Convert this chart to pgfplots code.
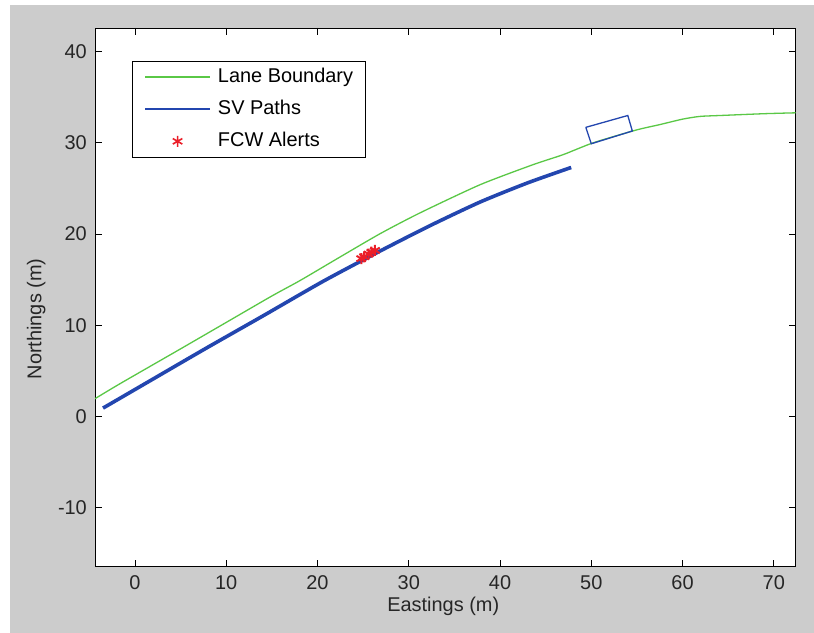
\documentclass[border=0pt]{standalone}
\usepackage{fontspec}
\setmainfont{Liberation Sans}
\usepackage{pgfplots}
\pgfplotsset{compat=1.18}
\definecolor{figgrey}{RGB}{204,204,204}
\definecolor{lanegreen}{RGB}{90,200,70}
\definecolor{svblue}{RGB}{35,70,175}
\definecolor{fcwred}{RGB}{235,30,40}
\newcommand{\figfont}{\fontsize{20}{24}\selectfont}

\begin{document}
\begin{tikzpicture}
\fill[white] (0bp,0bp) rectangle (814bp,633bp);
\fill[figgrey] (10bp,0bp) rectangle (814bp,628bp);
\useasboundingbox (0bp,0bp) rectangle (814bp,633bp);
\begin{axis}[
  at={(95bp,66.3bp)}, anchor=south west,
  scale only axis, width=700.7bp, height=538.7bp,
  xmin=-4.38, xmax=72.4,
  ymin=-16.5, ymax=42.6,
  xtick={0,10,...,70}, ytick={-10,0,...,40},
  axis background/.style={fill=white},
  axis line style={black, line width=0.9bp},
  major tick style={black, line width=0.9bp},
  major tick length=6.7bp,
  tick align=inside,
  /pgf/number format/assume math mode=true,
  tick label style={font=\figfont, text=black!85},
  xticklabel style={inner sep=0pt, yshift=-9bp},
  yticklabel style={inner sep=0pt, xshift=-8bp},
  label style={font=\figfont, text=black!85},
  xlabel={Eastings (m)},
  ylabel={Northings (m)},
  xlabel style={at={(axis description cs:0.497,0)}, anchor=center, yshift=-40bp},
  ylabel style={at={(axis description cs:-0.084,0.46)}, anchor=center},
  legend cell align=left,
  legend style={at={(axis description cs:0.0524,0.939)}, anchor=north west,
    draw=black, line width=0.9bp, fill=white, font=\figfont,
    inner xsep=12bp, inner ysep=6bp, row sep=12bp, column sep=7bp,
    nodes={inner sep=0pt, text height=15bp, text depth=5bp}},
]
% lane boundary
\addplot[lanegreen, line width=1.3bp, smooth, tension=0.4,
  legend image code/.code={\draw[lanegreen, line width=1.8bp] (0bp,0bp) -- (65bp,0bp);}] coordinates {
  (-4.6,1.8) (-1.6,3.6) (5,7.4) (10,10.3) (15,13.2) (18.1,14.9) (22,17.2)
  (26.8,20.0) (31.2,22.3) (37.8,25.4) (43.6,27.6) (46.9,28.7) (50.2,30.0)
  (54.9,31.4) (57.5,32.0) (60,32.6) (61.9,32.9) (64.1,33.0) (69,33.2) (72.6,33.3)
};
\addlegendentry{Lane Boundary}
% subject vehicle paths
\addplot[svblue, line width=3.6bp, smooth, tension=0.4,
  legend image code/.code={\draw[svblue, line width=1.8bp] (0bp,0bp) -- (65bp,0bp);}] coordinates {
  (-3.5,0.9) (2,4.1) (7.85,7.5) (14,11.0) (20.6,14.8) (26.8,18.1)
  (32.3,20.9) (37.8,23.5) (43,25.6) (47.8,27.3)
};
\addlegendentry{SV Paths}
% forward collision warnings
\addplot[fcwred, only marks, mark=asterisk, mark size=5.5bp, line width=2bp,
  legend image code/.code={\draw[fcwred, line width=1.6bp] plot[mark=asterisk, mark size=5.5bp] coordinates {(32.5bp,0bp)};}] coordinates {
  (24.8,17.3) (25.1,17.5) (25.6,17.8) (25.9,18.0) (26.3,18.2)
};
\addlegendentry{FCW Alerts}
% vehicle outline
\addplot[svblue, line width=1.3bp, forget plot] coordinates {
  (49.4,31.7) (54.0,33.0) (54.5,31.3) (50.0,29.9) (49.4,31.7)
};
\end{axis}
\end{tikzpicture}
\end{document}
